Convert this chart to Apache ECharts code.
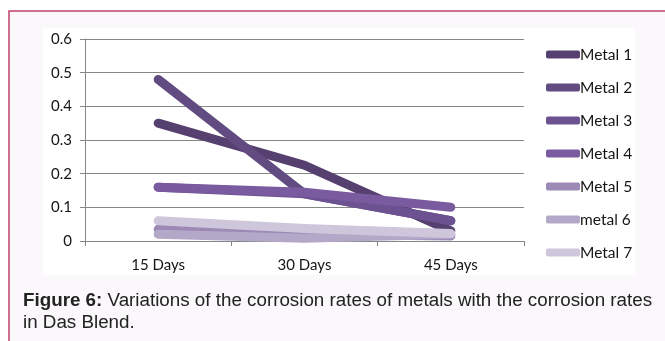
<!DOCTYPE html>
<html>
<head>
<meta charset="utf-8">
<style>
  html, body { margin: 0; padding: 0; background: #fff; }
  #chart { width: 665px; height: 341px; }
</style>
<script src="https://cdn.jsdelivr.net/npm/echarts@6/dist/echarts.min.js"></script>
</head>
<body>
<div id="chart"></div>
<script>
// Exposure periods
const periods = ['15 Days', '30 Days', '45 Days'];

// Corrosion rate of each metal per exposure period
const metal1 = [0.35, 0.225, 0.03];
const metal2 = [0.48, 0.14, 0.06];
const metal3 = [0.16, 0.14, 0.06];
const metal4 = [0.16, 0.145, 0.10];
const metal5 = [0.035, 0.02, 0.015];
const metal6 = [0.02, 0.008, 0.02];
const metal7 = [0.06, 0.037, 0.022];

const seriesNames = ['Metal 1', 'Metal 2', 'Metal 3', 'Metal 4', 'Metal 5', 'metal 6', 'Metal 7'];
const seriesData = [metal1, metal2, metal3, metal4, metal5, metal6, metal7];
const seriesColors = ['#56406f', '#614b80', '#6c5291', '#7a5ba0', '#9c89b6', '#b4a8c9', '#cec7dc'];

const captionBold = 'Figure 6:';
const captionLine1 = ' Variations of the corrosion rates of metals with the corrosion rates';
const captionLine2 = 'in Das Blend.';

const chartFont = 'Lato, "Open Sans", sans-serif';
const captionFont = '"Liberation Sans", Arial, sans-serif';
const axisGray = '#868686';
const textColor = '#151515';

const chart = echarts.init(document.getElementById('chart'), null, { renderer: 'canvas' });

chart.setOption({
  backgroundColor: '#ffffff',
  animation: false,
  graphic: [
    {
      type: 'rect', z: -20, silent: true,
      shape: { x: 9, y: 11, width: 700, height: 400 },
      style: { fill: '#faf8fa', stroke: '#c2406a', lineWidth: 1.5 }
    },
    {
      type: 'rect', z: -10, silent: true,
      shape: { x: 43, y: 28, width: 592, height: 247 },
      style: { fill: '#ffffff' }
    },
    {
      type: 'text', z: 10, silent: true,
      left: 23, top: 290,
      style: {
        text: '{b|' + captionBold + '}' + captionLine1 + '\n' + captionLine2,
        font: '18.8px ' + captionFont,
        fill: '#222222',
        lineHeight: 22,
        rich: {
          b: { fontWeight: 'bold', fontSize: 18.8, fontFamily: captionFont, fill: '#222222', lineHeight: 22 }
        }
      }
    }
  ],
  grid: { left: 85, right: 141, top: 39, bottom: 100, containLabel: false },
  legend: {
    orient: 'vertical',
    left: 541,
    top: 41,
    itemWidth: 34,
    itemHeight: 8,
    itemGap: 16,
    icon: 'roundRect',
    data: seriesNames,
    textStyle: { fontFamily: chartFont, fontSize: 15.5, color: textColor, lineHeight: 17, padding: [0, 0, 0, -5] }
  },
  xAxis: {
    type: 'category',
    data: periods,
    boundaryGap: true,
    axisLine: { lineStyle: { color: axisGray, width: 1 } },
    axisTick: { show: true, length: 5, inside: false, lineStyle: { color: axisGray } },
    axisLabel: { fontFamily: chartFont, fontSize: 15, color: textColor, margin: 17 },
    splitLine: { show: false }
  },
  yAxis: {
    type: 'value',
    min: 0, max: 0.6, interval: 0.1,
    axisLine: { show: true, lineStyle: { color: axisGray, width: 1 } },
    axisTick: { show: true, length: 5, lineStyle: { color: axisGray } },
    axisLabel: {
      fontFamily: chartFont, fontSize: 15, color: textColor, margin: 13,
      formatter: v => (v === 0 ? '0' : v.toFixed(1))
    },
    splitLine: { show: true, lineStyle: { color: axisGray, width: 1 } }
  },
  series: seriesNames.map((name, i) => ({
    name: name,
    type: 'line',
    data: seriesData[i],
    symbol: 'none',
    smooth: false,
    color: seriesColors[i],
    lineStyle: { width: 9, color: seriesColors[i], cap: 'round', join: 'round' },
    emphasis: { disabled: true }
  }))
});
</script>
</body>
</html>
